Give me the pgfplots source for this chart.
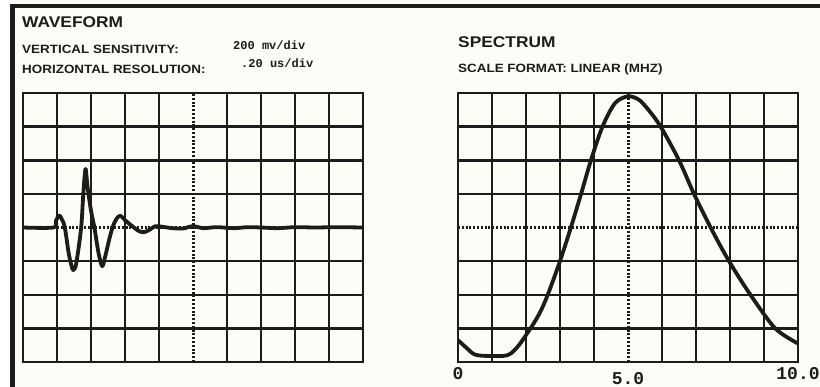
\documentclass[border=0pt]{standalone}
\usepackage{fontspec}
\setmainfont{Liberation Sans}
\newfontfamily\hd[FakeStretch=1.12]{Liberation Sans}
\newfontfamily\mono{Liberation Mono}
\usepackage{pgfplots}
\pgfplotsset{compat=1.18}
\definecolor{paper}{RGB}{253,252,246}
\definecolor{ink}{RGB}{28,28,26}
\pgfplotsset{
  scopebox/.style={
    scale only axis, width=340pt, height=269pt,
    xmin=0, xmax=10,
    major tick length=0pt,
    axis line style={line width=2.8pt, ink},
    grid=major,
    grid style={line width=2.5pt, ink},
    yticklabels={}, extra y tick labels={},
    extra tick style={grid style={line width=3pt, ink, dash pattern=on 2pt off 1.8pt}},
  },
  trace/.style={line width=3.8pt, ink, smooth, mark=none, line join=round},
}
\begin{document}
\begin{tikzpicture}[x=1pt,y=1pt]
\fill[paper] (0,0) rectangle (820,-387);
\fill[white] (0,0) rectangle (10,-387);
\fill[ink] (10,-4) rectangle (820,-8.5);
\fill[ink] (10,-4) rectangle (14.5,-387);

\node[anchor=base west, inner sep=0, text=ink, font=\hd\bfseries\fontsize{15.5}{16}\selectfont] at (22,-28) {WAVEFORM};
\node[anchor=base west, inner sep=0, text=ink, font=\hd\bfseries\fontsize{12}{12}\selectfont] at (22,-54) {VERTICAL SENSITIVITY:};
\node[anchor=base west, inner sep=0, text=ink, font=\hd\bfseries\fontsize{12}{12}\selectfont] at (22,-74) {HORIZONTAL RESOLUTION:};
\node[anchor=base west, inner sep=0, text=ink, font=\mono\bfseries\fontsize{12}{12}\selectfont] at (233,-50) {200 mv/div};
\node[anchor=base west, inner sep=0, text=ink, font=\mono\bfseries\fontsize{12}{12}\selectfont] at (241,-68) {.20 us/div};
\node[anchor=base west, inner sep=0, text=ink, font=\hd\bfseries\fontsize{15.5}{16}\selectfont] at (458,-48) {SPECTRUM};
\node[anchor=base west, inner sep=0, text=ink, font=\hd\bfseries\fontsize{12}{12}\selectfont] at (458,-73) {SCALE FORMAT: LINEAR (MHZ)};

% Waveform
\begin{axis}[scopebox, at={(23pt,-362pt)}, anchor=south west,
  ymin=-4, ymax=4,
  xtick={0,1,2,3,4,6,7,8,9,10}, ytick={-4,-3,-2,-1,1,2,3,4},
  extra x ticks={5}, extra y ticks={0},
  xticklabels={}, extra x tick labels={}]
\addplot[trace] coordinates {
(0,0) (0.9,0) (0.97,0.2) (1.06,0.36) (1.14,0.25) (1.23,0) (1.35,-0.8) (1.45,-1.22) (1.5,-1.25) (1.56,-1.1) (1.65,-0.5) (1.72,0.1) (1.78,1.1) (1.84,1.74) (1.9,1.2) (2.0,0.5) (2.1,0) (2.22,-0.75) (2.33,-1.15) (2.42,-0.85) (2.55,-0.3) (2.65,0.05) (2.78,0.3) (2.88,0.34) (3.0,0.22) (3.2,0.05) (3.4,-0.1) (3.55,-0.14) (3.7,-0.08) (3.9,0.04) (4.1,0.02) (4.4,-0.02) (4.7,-0.03) (5.0,0.04) (5.3,-0.02) (5.7,0.01) (6.2,-0.02) (6.6,0.01) (7.0,0) (7.5,-0.02) (8,0.01) (8.6,0) (9.2,0.01) (10,0)
};
\end{axis}

% Spectrum
\begin{axis}[scopebox, at={(458pt,-362pt)}, anchor=south west,
  ymin=0, ymax=8,
  xtick={0,1,2,3,4,6,7,8,9,10}, ytick={0,1,2,3,5,6,7,8},
  extra x ticks={5}, extra y ticks={4},
  xticklabels={0,,,,,,,,,10.0}, extra x tick labels={5.0},
  /pgf/number format/assume math mode=true,
  xticklabel style={font=\mono\bfseries\fontsize{18}{18}\selectfont, text=ink, inner sep=0pt, yshift=-5pt, anchor=north},
  extra x tick style={xticklabel style={font=\mono\bfseries\fontsize{18}{18}\selectfont, text=ink, inner sep=0pt, yshift=-5pt, anchor=north}}]
\addplot[trace] coordinates {
(0,0.65) (0.25,0.42) (0.5,0.22) (0.9,0.18) (1.45,0.2) (1.75,0.45) (2.1,0.95) (2.4,1.45) (2.64,2.0) (3.0,3.0) (3.32,4.0) (3.62,5.0) (3.91,6.0) (4.25,7.0) (4.62,7.7) (5.0,7.9) (5.32,7.8) (5.6,7.5) (5.96,7.0) (6.5,6.0) (6.94,5.0) (7.43,4.0) (7.97,3.0) (8.6,2.0) (9.33,1.0) (10,0.55)
};
\end{axis}
\end{tikzpicture}
\end{document}
